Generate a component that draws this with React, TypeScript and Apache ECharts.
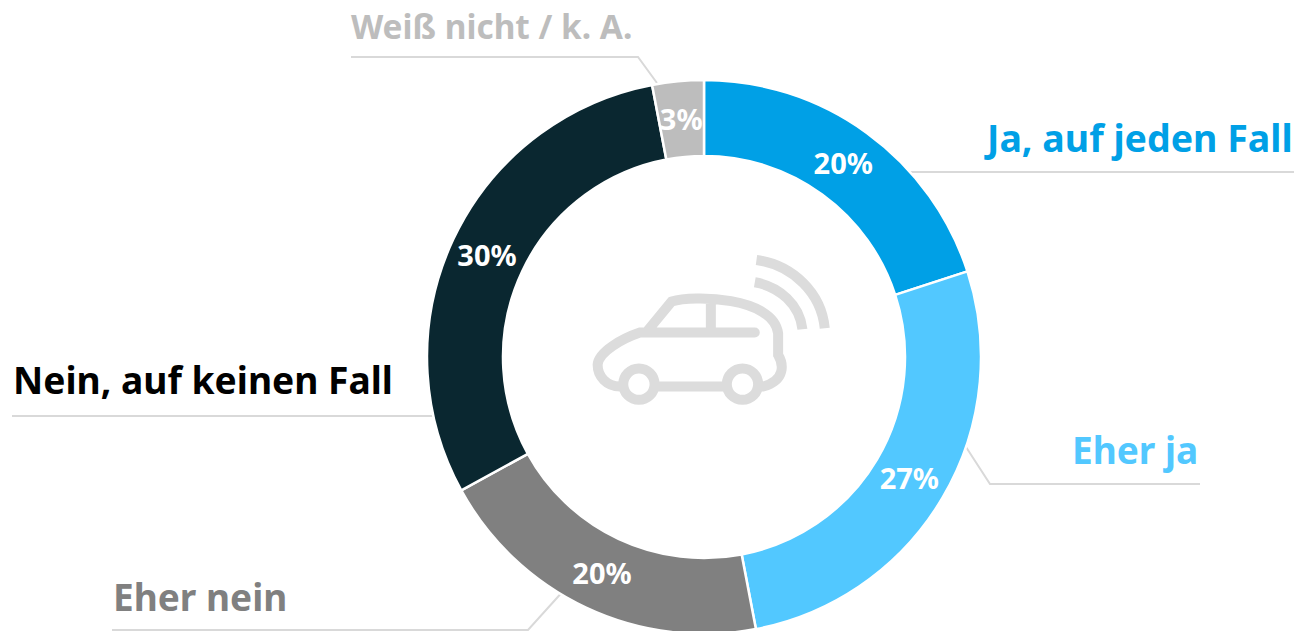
import React, { useEffect, useRef } from "react";
import * as echarts from "echarts";

const categories = ["Ja, auf jeden Fall", "Eher ja", "Eher nein", "Nein, auf keinen Fall", "Weiß nicht / k. A."];
const shares = [20, 27, 20, 30, 3];
const sliceColors = ["#00a0e6", "#52c8ff", "#808080", "#0a2730", "#bdbdbd"];
const labelColors = ["#00a0e6", "#52c8ff", "#808080", "#000000", "#bdbdbd"];
const labelSizes = [37.5, 37, 37, 37.2, 33.4];
const labelAnchors = [
  { x: 987, y: 137 },
  { x: 1072, y: 449 },
  { x: 113, y: 596 },
  { x: 13, y: 379 },
  { x: 351, y: 26 },
];
const valueNudges = [
  [-3, 1],
  [-3, -3],
  [1, -3],
  [2, 1],
  [0, 2],
];
const leaderLines = [
  [[1294, 172], [925, 172], [908, 172]],
  [[1200, 484], [990, 484], [966, 447]],
  [[112, 630], [528, 630], [565, 589]],
  [[12, 416], [420, 416], [435, 416]],
  [[351, 57], [638, 57], [657, 83]],
];

const FONT = "'Noto Sans', 'Open Sans', sans-serif";
const carPath =
  "M585 308 L240 308 C190 325 115 365 113 405 C113 440 140 470 180 470 " +
  "M265 300 L335 215 C400 195 640 200 655 310 L655 375 C670 400 680 450 610 470 " +
  "M295 470 L490 470 M453 215 L453 300 " +
  "M284 463 A47 47 0 1 1 190 463 A47 47 0 1 1 284 463 Z " +
  "M595 463 A47 47 0 1 1 501 463 A47 47 0 1 1 595 463 Z";
const wavePath = "M590 90 C700 105 785 190 795 295 M585 157 C660 170 720 225 728 298";

echarts.graphic.registerShape("carIcon", echarts.graphic.extendPath(carPath, {}) as any);
echarts.graphic.registerShape("waveIcon", echarts.graphic.extendPath(wavePath, {}) as any);

export default function App() {
  const ref = useRef<HTMLDivElement>(null);
  useEffect(() => {
    document.body.style.margin = "0";
    const chart = echarts.init(ref.current!, undefined, { renderer: "svg" });
    const center = [704, 357];
    chart.setOption({
      animation: false,
      backgroundColor: "#ffffff",
      graphic: [
        {
          type: "carIcon",
          x: 560,
          y: 230,
          scaleX: 1 / 3,
          scaleY: 1 / 3,
          style: { fill: "none", stroke: "#dcdcdc", lineWidth: 30, lineCap: "round" },
        },
        {
          type: "waveIcon",
          x: 560,
          y: 230,
          scaleX: 1 / 3,
          scaleY: 1 / 3,
          style: { fill: "none", stroke: "#dcdcdc", lineWidth: 30, lineCap: "butt" },
        },
      ],
      series: [
        {
          type: "pie",
          center,
          radius: [201, 277],
          startAngle: 90,
          clockwise: true,
          silent: true,
          itemStyle: { borderColor: "#ffffff", borderWidth: 2.5 },
          label: {
            show: true,
            position: "inside",
            formatter: "{c}%",
            color: "#ffffff",
            fontFamily: FONT,
            fontWeight: "bold",
            fontSize: 29,
          },
          labelLine: { show: false },
          labelLayout: (p: any) => ({
            dx: valueNudges[p.dataIndex][0],
            dy: valueNudges[p.dataIndex][1],
          }),
          data: categories.map((name, i) => ({
            name,
            value: shares[i],
            itemStyle: { color: sliceColors[i] },
          })),
        },
        {
          type: "pie",
          center,
          radius: [201, 277],
          startAngle: 90,
          silent: true,
          avoidLabelOverlap: false,
          itemStyle: { color: "transparent", borderWidth: 0 },
          label: {
            show: true,
            position: "outside",
            formatter: "{b}",
            fontFamily: FONT,
            fontWeight: "bold",
          },
          labelLine: { show: true, lineStyle: { color: "#d9d9d9", width: 2 } },
          labelLayout: (p: any) => ({
            x: labelAnchors[p.dataIndex].x,
            y: labelAnchors[p.dataIndex].y,
            align: "left",
            verticalAlign: "middle",
            labelLinePoints: leaderLines[p.dataIndex],
          }),
          data: categories.map((name, i) => ({
            name,
            value: shares[i],
            label: { color: labelColors[i], fontSize: labelSizes[i] },
          })),
        },
      ],
    });
    return () => chart.dispose();
  }, []);
  return <div ref={ref} style={{ width: 1298, height: 631, overflow: "hidden" }} />;
}
